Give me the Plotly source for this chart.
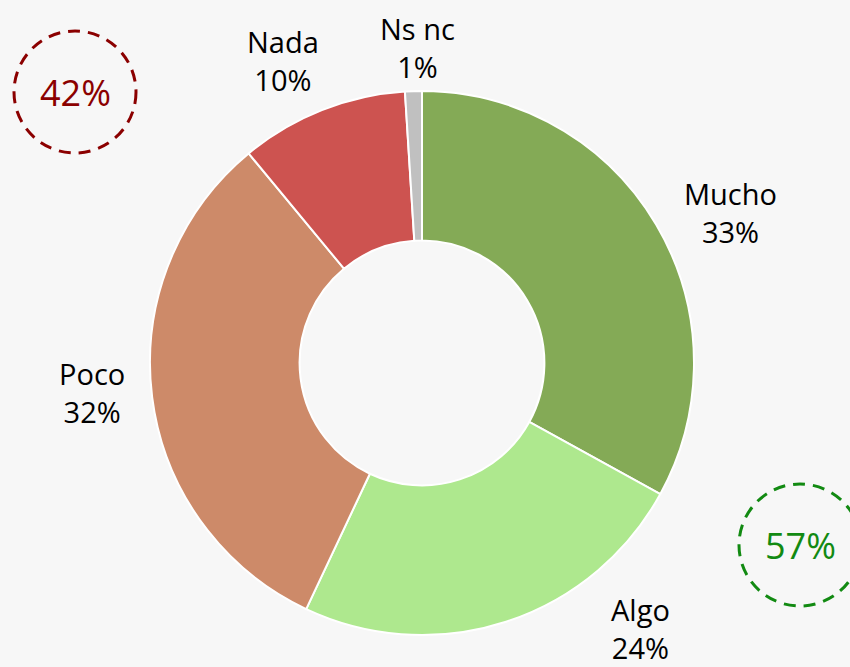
import plotly.graph_objects as go

labels = ["Mucho", "Algo", "Poco", "Nada", "Ns nc"]
values = [33, 24, 32, 10, 1]
colors = ["#84aa56", "#aee88e", "#cd8a69", "#cd5350", "#c0c0c0"]
# label positions in pixels (x, y centre)
label_pos = [(730, 212), (640, 628), (92, 392), (283, 60), (417, 47)]
groups = [("42%", "#8b0000", 75, 92), ("57%", "#128a12", 800, 545)]

W, H = 850, 667
cx, cy, R = 422, 363, 272

fig = go.Figure(go.Pie(
    labels=labels, values=values, sort=False, direction="clockwise",
    rotation=0, hole=0.45, textinfo="none", hoverinfo="label+percent",
    marker=dict(colors=colors, line=dict(color="white", width=2)),
    domain=dict(x=[(cx - R) / W, (cx + R) / W], y=[(H - cy - R) / H, (H - cy + R) / H]),
    showlegend=False,
))

font = dict(family="Open Sans, Noto Sans, sans-serif", size=29, color="black")
anns = []
for lab, v, (x, y) in zip(labels, values, label_pos):
    anns.append(dict(x=x / W, y=1 - y / H, xref="paper", yref="paper",
                     text=f"{lab}<br>{v}%", showarrow=False, font=font,
                     xanchor="center", yanchor="middle", align="center"))
shapes = []
for txt, col, gx, gy in groups:
    r = 61
    anns.append(dict(x=gx / W, y=1 - gy / H, xref="paper", yref="paper", text=txt,
                     showarrow=False, font=dict(family="Open Sans, sans-serif", size=36, color=col),
                     xanchor="center", yanchor="middle"))
    shapes.append(dict(type="circle", xref="paper", yref="paper",
                       x0=(gx - r) / W, x1=(gx + r) / W, y0=1 - (gy + r) / H, y1=1 - (gy - r) / H,
                       line=dict(color=col, width=3, dash="12px,8px")))

fig.update_layout(width=W, height=H, margin=dict(l=0, r=0, t=0, b=0),
                  paper_bgcolor="#f7f7f7", plot_bgcolor="#f7f7f7",
                  annotations=anns, shapes=shapes)
fig.write_html("out.html", config={"displayModeBar": False},
               post_script="document.body.style.margin='0';document.body.style.overflow='hidden';")
